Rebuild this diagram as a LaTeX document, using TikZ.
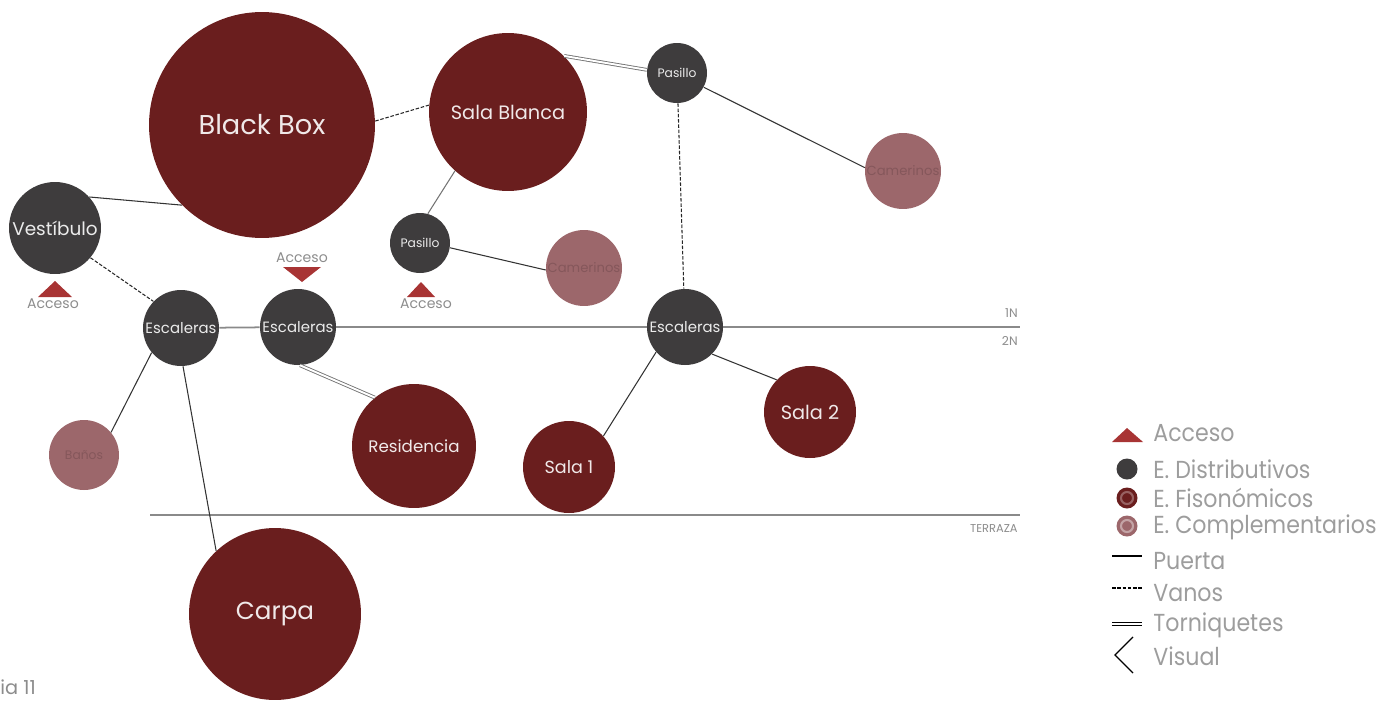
\documentclass[tikz,border=0pt]{standalone}
\usepackage{fontspec}
\setmainfont{Poppins}
\newfontfamily\legfont[FakeStretch=0.9]{Poppins}
\definecolor{distgray}{HTML}{3E3C3D}
\definecolor{fisred}{HTML}{6A1E1E}
\definecolor{complpink}{HTML}{9C676B}
\definecolor{compltext}{HTML}{85575B}
\definecolor{accred}{HTML}{A83434}
\definecolor{legtext}{HTML}{8C8C8C}
\definecolor{levelgray}{HTML}{8A8A8A}
\tikzset{
  distrib/.style={circle, fill=distgray, text=white!92!black, inner sep=0pt},
  fison/.style={circle, fill=fisred, text=white!90!fisred, inner sep=0pt},
  compl/.style={circle, fill=complpink, text=compltext, inner sep=0pt},
  puerta/.style={draw=black!80, line width=0.6pt},
  vanos/.style={draw=black!85, dash pattern=on 2pt off 1pt, line width=0.6pt},
  torniq/.style={draw=black!55, double=white, double distance=1.1pt, line width=0.5pt},
  nivel/.style={draw=levelgray, line width=1pt},
  smalltext/.style={text=legtext, inner sep=0pt},
  legtxt/.style={text=legtext!85!white, anchor=west, inner sep=0pt, font=\legfont\fontsize{14}{14}\selectfont},
}
\begin{document}
\begin{tikzpicture}[x=0.02cm, y=-0.02cm]
  \useasboundingbox (0,0) rectangle (1398,700);

  \node[fison, minimum size=4.52cm, font=\fontsize{15.5}{15.5}\selectfont] (blackbox) at (262,125) {Black Box};
  \node[fison, minimum size=3.16cm, font=\fontsize{11}{11}\selectfont] (salablanca) at (508,112) {Sala Blanca};
  \node[distrib, minimum size=1.2cm, font=\fontsize{7}{7}\selectfont] (pasillotop) at (677,73) {Pasillo};
  \node[compl, minimum size=1.52cm, font=\fontsize{7.5}{7.5}\selectfont] (camerinostop) at (903,171) {Camerinos};
  \node[distrib, minimum size=1.84cm, font=\fontsize{10.5}{10.5}\selectfont] (vestibulo) at (55,228) {Vestíbulo};
  \node[distrib, minimum size=1.2cm, font=\fontsize{7}{7}\selectfont] (pasillomid) at (420,243) {Pasillo};
  \node[compl, minimum size=1.52cm, font=\fontsize{7.5}{7.5}\selectfont] (camerinosmid) at (584,268) {Camerinos};
  \node[distrib, minimum size=1.52cm, font=\fontsize{8.5}{8.5}\selectfont] (escaleras1) at (181,328) {Escaleras};
  \node[distrib, minimum size=1.52cm, font=\fontsize{8.5}{8.5}\selectfont] (escaleras2) at (298,327) {Escaleras};
  \node[distrib, minimum size=1.52cm, font=\fontsize{8.5}{8.5}\selectfont] (escaleras3) at (685,327) {Escaleras};
  \node[compl, minimum size=1.4cm, font=\fontsize{7}{7}\selectfont] (banos) at (84,455) {Baños};
  \node[fison, minimum size=2.48cm, font=\fontsize{9.5}{9.5}\selectfont] (residencia) at (414,446) {Residencia};
  \node[fison, minimum size=1.84cm, font=\fontsize{10}{10}\selectfont] (sala1) at (569,467) {Sala 1};
  \node[fison, minimum size=1.84cm, font=\fontsize{11}{11}\selectfont] (sala2) at (810,412) {Sala 2};
  \node[fison, minimum size=3.44cm, font=\fontsize{14}{14}\selectfont] (carpa) at (275,614) {Carpa};

  \coordinate (nivelfin) at (1020,327);
  \coordinate (terrazaini) at (150,515);
  \coordinate (terrazafin) at (1020,515);

  \draw[puerta] (vestibulo.42) -- (blackbox.225);
  \draw[vanos] (blackbox.2) -- (salablanca.175);
  \draw[torniq] (salablanca.45) -- (pasillotop.174);
  \draw[puerta] (pasillotop.-28) -- (camerinostop.175);
  \draw[vanos] (pasillotop) -- (escaleras3);
  \draw[puerta, draw=black!55] (salablanca.228) -- (pasillomid.75);
  \draw[puerta] (pasillomid.-9) -- (camerinosmid.183);
  \draw[vanos] (vestibulo.-40) -- (escaleras1.136);
  \draw[nivel] (escaleras1) -- (escaleras2);
  \draw[nivel] (escaleras2) -- (escaleras3);
  \draw[nivel] (escaleras3) -- (nivelfin);
  \draw[nivel] (terrazaini) -- (terrazafin);
  \draw[torniq] (escaleras2.-87) -- (residencia.129);
  \draw[puerta] (escaleras1.220) -- (banos.40);
  \draw[puerta] (escaleras1.273) -- (carpa.133);
  \draw[puerta] (escaleras3.221) -- (sala1.42);
  \draw[puerta] (escaleras3.-45) -- (sala2.136);

  \fill[accred] (38,297) -- (72,297) -- (55,281) -- cycle;
  \node[smalltext, font=\fontsize{8}{8}\selectfont] (acceso1) at (53,304) {Acceso};
  \fill[accred] (283,267) -- (321,267) -- (302,282) -- cycle;
  \node[smalltext, font=\fontsize{8}{8}\selectfont] (acceso2) at (302,258) {Acceso};
  \fill[accred] (407,297) -- (435,297) -- (421,282) -- cycle;
  \node[smalltext, font=\fontsize{8}{8}\selectfont] (acceso3) at (426,304) {Acceso};

  \node[smalltext, anchor=east, font=\fontsize{7}{7}\selectfont] (n1) at (1018,313) {1N};
  \node[smalltext, anchor=east, font=\fontsize{7}{7}\selectfont] (n2) at (1018,341) {2N};
  \node[smalltext, anchor=east, font=\fontsize{6.5}{6.5}\selectfont] (terraza) at (1018,529) {TERRAZA};

  \fill[accred] (1112,442) -- (1143,442) -- (1127,428) -- cycle;
  \node[legtxt] (legacceso) at (1153,433) {Acceso};
  \fill[distgray] (1127,469) circle (10.5);
  \node[legtxt] (legdistrib) at (1153,469) {E. Distributivos};
  \fill[fisred] (1127,498) circle (10.5);
  \draw[fisred!70!white, line width=1.2pt] (1127,498) circle (6);
  \node[legtxt] (legfison) at (1153,498) {E. Fisonómicos};
  \fill[complpink] (1127,526) circle (10.5);
  \draw[complpink!60!white, line width=1.2pt] (1127,526) circle (6);
  \node[legtxt] (legcompl) at (1153,527) {E. Complementarios};
  \draw[black, line width=0.6pt] (1112,556) -- (1142,556);
  \node[legtxt] (legpuerta) at (1153,561) {Puerta};
  \draw[black, line width=0.6pt, dash pattern=on 2pt off 1pt] (1112,588) -- (1142,588);
  \node[legtxt] (legvanos) at (1153,593) {Vanos};
  \draw[black, double=white, double distance=1.1pt, line width=0.5pt] (1112,624) -- (1142,624);
  \node[legtxt] (legtorniq) at (1153,625) {Torniquetes};
  \draw[black, line width=0.7pt] (1133,637) -- (1115,655) -- (1133,673);
  \node[legtxt] (legvisual) at (1153,656) {Visual};

  \node[smalltext, anchor=west, font=\fontsize{11}{11}\selectfont] (figura) at (0,687) {ia 11};
\end{tikzpicture}
\end{document}
